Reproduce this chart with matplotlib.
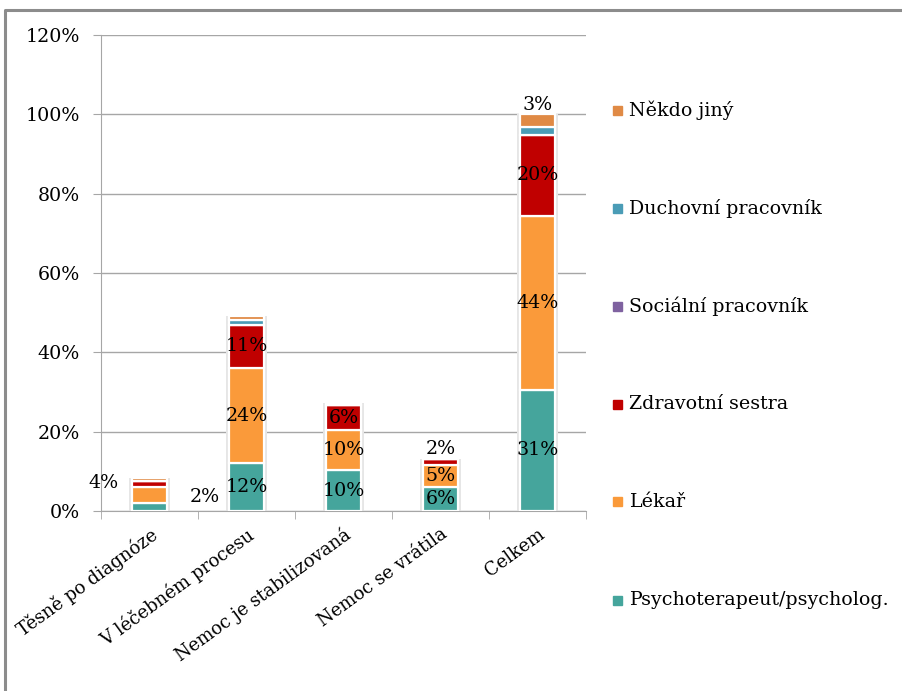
import matplotlib

matplotlib.use("Agg")

import matplotlib.pyplot as plt
from matplotlib.lines import Line2D
from matplotlib.patches import Rectangle
from matplotlib.ticker import FixedLocator, PercentFormatter
import numpy as np

plt.rcParams["font.family"] = ["DejaVu Serif"]
FS = 13.7

categories = [
    "Těsně po diagnóze",
    "V léčebném procesu",
    "Nemoc je stabilizovaná",
    "Nemoc se vrátila",
    "Celkem",
]
series_names = [
    "Psychoterapeut/psycholog.",
    "Lékař",
    "Zdravotní sestra",
    "Sociální pracovník",
    "Duchovní pracovník",
    "Někdo jiný",
]
psycholog = [2.0, 12.0, 10.3, 6.1, 30.6]
lekar = [4.0, 24.0, 10.1, 5.4, 43.8]
sestra = [1.5, 11.0, 6.2, 1.6, 20.4]
socialni = [0.0, 0.0, 0.0, 0.0, 0.0]
duchovni = [0.0, 1.2, 0.0, 0.0, 2.1]
nekdo = [0.7, 0.9, 0.6, 0.0, 3.1]
colors = ["#45a59c", "#fa9a3a", "#c00000", "#7f62a0", "#4a9cb6", "#e08a45"]

# labels shown per (series index, bar index); None = centred inside the segment
shown_labels = {
    (0, 0): (0.57, 3.5),
    (1, 0): (-0.47, 7.0),
    (0, 1): None, (1, 1): None, (2, 1): None,
    (0, 2): None, (1, 2): None, (2, 2): None,
    (0, 3): None, (1, 3): None, (2, 3): "top",
    (0, 4): None, (1, 4): None, (2, 4): None, (5, 4): "top",
}

data = np.array([psycholog, lekar, sestra, socialni, duchovni, nekdo])
x = np.arange(len(categories))
bar_w = 0.37

fig = plt.figure(figsize=(9.02, 6.91), dpi=100)
ax = fig.add_axes([101 / 902, 1 - 511 / 691, 485 / 902, 476 / 691])

# soft halo behind each stack
totals = data.sum(axis=0)
ax.bar(x, totals, width=bar_w + 0.05, color="#e6e6e6", zorder=2, linewidth=0)

bottoms = np.zeros(len(categories))
for i, vals in enumerate(data):
    ax.bar(x, vals, width=bar_w, bottom=bottoms, color=colors[i],
           edgecolor="white", linewidth=1.6, zorder=3)
    for j, v in enumerate(vals):
        key = (i, j)
        if key not in shown_labels:
            continue
        place = shown_labels[key]
        txt = f"{round(v)}%"
        if place is None:
            ax.text(x[j], bottoms[j] + v / 2, txt, ha="center", va="center",
                    fontsize=FS, zorder=5)
        elif place == "top":
            ax.text(x[j], totals[j] + 0.2, txt, ha="center", va="bottom",
                    fontsize=FS, zorder=5)
        else:
            ax.text(x[j] + place[0], place[1], txt, ha="center", va="center",
                    fontsize=FS, zorder=5)
    bottoms += vals

ax.set_xlim(-0.5, len(categories) - 0.5)
ax.set_ylim(0, 120)
ax.set_yticks(np.arange(0, 121, 20))
ax.yaxis.set_major_formatter(PercentFormatter(decimals=0))
ax.grid(axis="y", color="#a6a6a6", linewidth=1.0, zorder=0)
ax.set_axisbelow(True)

ax.set_xticks(x)
ax.set_xticklabels(categories, rotation=36, ha="right", rotation_mode="anchor",
                   fontsize=13)
ax.xaxis.set_minor_locator(FixedLocator(np.arange(-0.5, len(categories), 1.0)))
ax.tick_params(axis="x", which="major", length=0, pad=10)
ax.tick_params(axis="x", which="minor", length=6, color="#a6a6a6")
ax.tick_params(axis="y", length=6, color="#a6a6a6", labelsize=FS, pad=9)

for side in ["top", "right"]:
    ax.spines[side].set_visible(False)
for side in ["left", "bottom"]:
    ax.spines[side].set_color("#a6a6a6")

# legend, top entry is the last series
legend_y = [110, 209, 306, 404, 502, 600]
for k, i in enumerate(reversed(range(len(series_names)))):
    yc = 1 - legend_y[k] / 691
    fig.patches.append(Rectangle((613 / 902, yc - 4.5 / 691), 9 / 902, 9 / 691,
                                 transform=fig.transFigure, color=colors[i]))
    fig.text(629 / 902, yc, series_names[i], fontsize=FS, va="center", ha="left")

# outer frame
fx, fy = 5 / 902, 1 - 10 / 691
fig.add_artist(Line2D([fx, fx, 1], [0, fy, fy], transform=fig.transFigure,
                      color="#8c8c8c", linewidth=2.2))

fig.savefig("out.png", dpi=100)
